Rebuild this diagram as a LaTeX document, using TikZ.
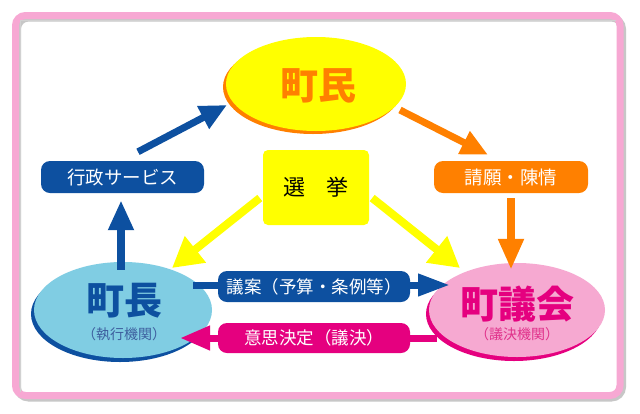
\documentclass[tikz,border=0pt]{standalone}
\usepackage{fontspec}
\newfontfamily\jp{Noto Sans CJK JP}
\usetikzlibrary{shapes.geometric,arrows.meta}
\definecolor{cblue}{HTML}{0D50A0}
\definecolor{corange}{HTML}{FF8000}
\definecolor{cmag}{HTML}{E5007F}
\definecolor{cyel}{HTML}{FFFF00}
\definecolor{clblue}{HTML}{80CDE3}
\definecolor{cpink}{HTML}{F6A9D1}
\definecolor{cframe}{HTML}{F7A8D3}
\definecolor{csub}{HTML}{3D5E9E}
\definecolor{csubp}{HTML}{E0308A}
\begin{document}
\begin{tikzpicture}[x=1pt,y=-1pt,
  ell/.style={ellipse, inner sep=0pt},
  bigtext/.style={font=\jp\bfseries\fontsize{38}{38}\selectfont, inner sep=0pt},
  subtext/.style={font=\jp\fontsize{14}{14}\selectfont, inner sep=0pt},
  boxnode/.style={rounded corners=9pt, inner sep=0pt, text=white, font=\jp\fontsize{18.5}{18.5}\selectfont},
  fatarrow/.style={line width=7pt, -{Triangle[length=27pt,width=24pt]}},
]
\useasboundingbox (0,0) rectangle (640,413);
\fill[white] (0,0) rectangle (640,413);
% frame
\draw[black!22, line width=7pt, rounded corners=11pt] (17.5,18) rectangle (622.5,398);
\draw[cframe, line width=7pt, rounded corners=10pt] (15.5,15.5) rectangle (620,395.5);
\draw[black!18, line width=1.5pt] (20.5,392) -- (20.5,20.5) -- (616,20.5);

% ellipses
\node[ell, fill=corange, minimum width=180pt, minimum height=94pt] (chominS) at (313,87) {};
\node[ell, fill=cyel, minimum width=180pt, minimum height=94pt] (chomin) at (316,84) {};
\node[bigtext, text=corange] (chominT) at (318,86) {町民};

\node[ell, fill=cblue, minimum width=178pt, minimum height=96pt] (chochoS) at (120,314) {};
\node[ell, fill=clblue, minimum width=178pt, minimum height=96pt] (chocho) at (123,310) {};
\node[bigtext, text=cblue] (chochoT) at (124,301) {町長};
\node[subtext, text=csub] (chochoU) at (124,334) {（執行機関）};

\node[ell, fill=cmag, minimum width=176pt, minimum height=94pt] (gikaiS) at (514,314) {};
\node[ell, fill=cpink, minimum width=176pt, minimum height=94pt] (gikai) at (517,310) {};
\node[bigtext, text=cmag] (gikaiT) at (517,304) {町議会};
\node[subtext, text=csubp] (gikaiU) at (517,334) {（議決機関）};

% boxes
\node[boxnode, fill=cblue, minimum width=163pt, minimum height=32pt] (gyosei) at (122.5,177) {行政サービス};
\node[boxnode, fill=corange, minimum width=154pt, minimum height=32pt] (seigan) at (511,177) {請願・陳情};
\node[fill=cyel, rounded corners=5pt, inner sep=0pt, minimum width=106pt, minimum height=75pt,
      font=\jp\fontsize{22}{22}\selectfont] (senkyo) at (316,187.5) {選\hspace{21pt}挙};
\node[boxnode, fill=cblue, minimum width=192pt, minimum height=31pt, font=\jp\fontsize{17.5}{17.5}\selectfont] (gian) at (314,286.5) {議案（予算・条例等）};
\node[boxnode, fill=cmag, minimum width=192pt, minimum height=30pt, font=\jp\fontsize{17.5}{17.5}\selectfont] (ishi) at (314,338) {意思決定（議決）};

% connectors
\draw[fatarrow, cblue] ([xshift=15.5pt,yshift=9pt]gyosei.north) -- ([shift={(-89pt,-21pt)}]chomin.center);
\draw[fatarrow, corange] ([shift={(84pt,-26pt)}]chomin.center) -- ([xshift=-23pt,yshift=6pt]seigan.north);
\draw[line width=8pt, corange, -{Triangle[length=31pt,width=24pt]}] ([yshift=-5pt]seigan.south) -- ([shift={(-6pt,-7pt)}]gikai.north);
\draw[line width=7.5pt, cblue, -{Triangle[length=30pt,width=24pt]}] ([shift={(-2pt,-8pt)}]chocho.north) -- ([xshift=-1.5pt,yshift=-7pt]gyosei.south);
\draw[line width=8pt, cyel, -{Triangle[length=30pt,width=32pt]}] ([shift={(-3pt,-10.5pt)}]senkyo.west) -- ([shift={(49pt,42pt)}]chocho.center);
\draw[line width=8pt, cyel, -{Triangle[length=30pt,width=32pt]}] ([shift={(3pt,-10.5pt)}]senkyo.east) -- ([shift={(-57pt,42pt)}]gikai.center);
\draw[line width=7pt, cblue] ([yshift=1.5pt]gian.west) -- ([shift={(70pt,25pt)}]chocho.center);
\draw[line width=7pt, cblue, -{Triangle[length=32pt,width=21pt]}] ([yshift=1.5pt]gian.east) -- ([shift={(-67pt,25pt)}]gikai.center);
\draw[line width=7pt, cmag] (ishi.east) -- ([shift={(-80pt,-28pt)}]gikai.center);
\draw[line width=7pt, cmag, -{Triangle[length=30pt,width=23pt]}] (ishi.west) -- ([shift={(57pt,-28pt)}]chocho.center);
\end{tikzpicture}
\end{document}
